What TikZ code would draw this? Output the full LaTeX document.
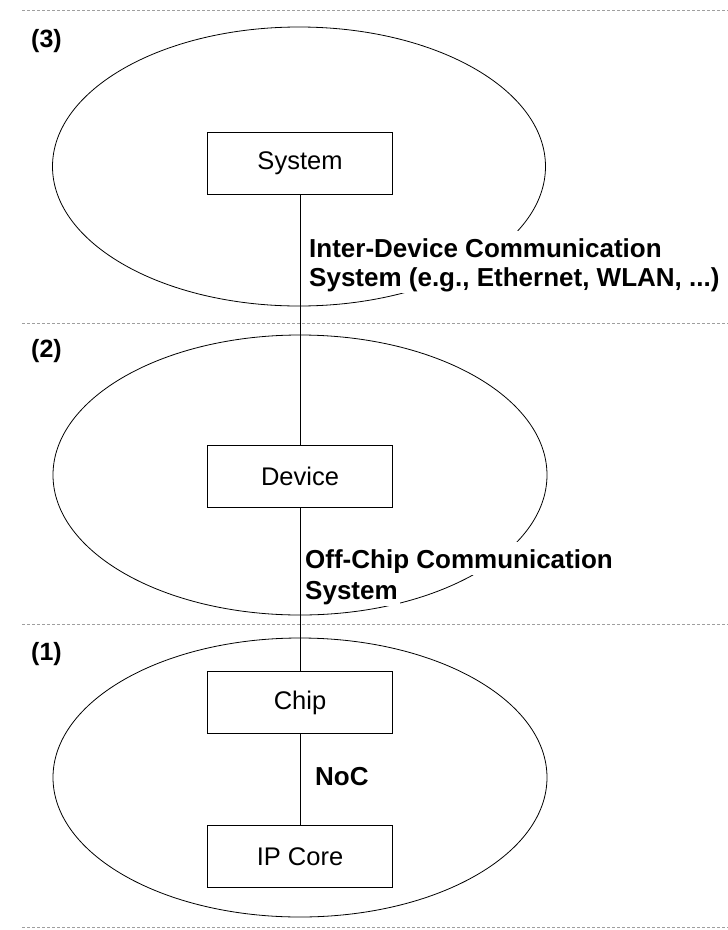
\documentclass[tikz,border=0pt]{standalone}
\usepackage{fontspec}
\setmainfont{Liberation Sans}
\begin{document}
\begin{tikzpicture}[x=1pt,y=-1pt,
  sep/.style={draw=gray!75, line width=0.8pt, dash pattern=on 3pt off 2pt},
  ring/.style={draw=black, line width=0.8pt},
  box/.style={draw=black, line width=1pt, fill=white, minimum width=185pt, minimum height=62pt, inner sep=0pt, font=\fontsize{25.5}{30}\selectfont},
  link/.style={draw=black, line width=1pt},
  lbl/.style={fill=white, inner sep=2pt, anchor=base west, text height=24pt, text depth=5pt, font=\bfseries\fontsize{26}{30}\selectfont},
  lvl/.style={inner sep=0pt, anchor=base west, font=\bfseries\fontsize{25}{28}\selectfont}]
\useasboundingbox (0,0) rectangle (728,930);
% separators
\coordinate (s1a) at (22,10);  \coordinate (s1b) at (728,10);
\coordinate (s2a) at (22,323); \coordinate (s2b) at (728,323);
\coordinate (s3a) at (22,624); \coordinate (s3b) at (728,624);
\coordinate (s4a) at (22,927); \coordinate (s4b) at (728,927);
\draw[sep] (s1a) -- (s1b);
\draw[sep] (s2a) -- (s2b);
\draw[sep] (s3a) -- (s3b);
\draw[sep] (s4a) -- (s4b);
% level labels
\node[lvl] (l3) at (31,47) {(3)};
\node[lvl] (l2) at (31,357) {(2)};
\node[lvl] (l1) at (31,660) {(1)};
% ellipses
\draw[ring] (299,166.5) ellipse [x radius=246.5pt, y radius=139.5pt];
\draw[ring] (300,475) ellipse [x radius=247pt, y radius=140pt];
\draw[ring] (300,777.5) ellipse [x radius=247pt, y radius=139.5pt];
% boxes
\node[box] (sys) at (300,163) {System};
\node[box] (dev) at (300,476) {Device};
\node[box] (chip) at (300,702.5) {Chip};
\node[box] (ip) at (300,856.5) {IP Core};
% connectors
\draw[link] (sys.south) -- (dev.north);
\draw[link] (dev.south) -- (chip.north);
\draw[link] (chip.south) -- (ip.north);
% connector labels
\node[lbl] (idc1) at (307,257) {Inter-Device Communication};
\node[lbl] (idc2) at (307,286) {System (e.g., Ethernet, WLAN, ...)};
\node[lbl] (occ1) at (303,568) {Off-Chip Communication};
\node[lbl] (occ2) at (303,599) {System};
\node[lbl, fill=none] (noc) at (313,785) {NoC};
\end{tikzpicture}
\end{document}
